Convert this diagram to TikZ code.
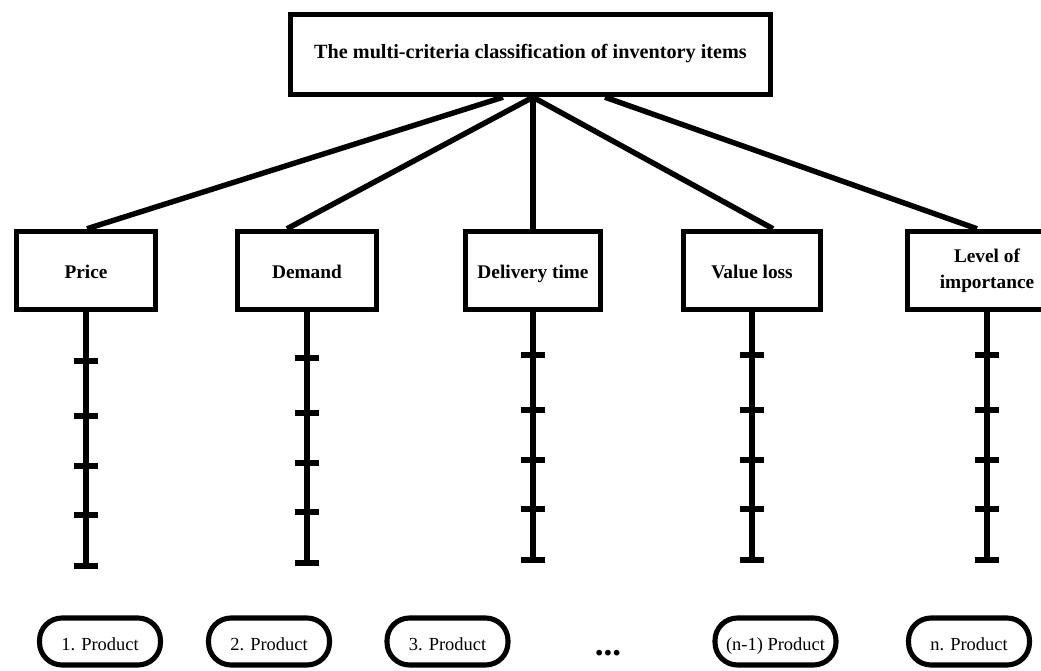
\documentclass[tikz,border=0pt]{standalone}
\usepackage{fontspec}
\setmainfont{Liberation Serif}
\usetikzlibrary{calc}
\tikzstyle{root}=[draw=black, line width=3.1pt, minimum width=9.6cm, minimum height=1.6cm, font=\fontsize{11.5}{13}\selectfont\bfseries]
\tikzstyle{criterion}=[draw=black, line width=3.1pt, minimum width=2.78cm, minimum height=1.56cm, align=center, text height=2ex, text depth=0pt, font=\fontsize{11}{15}\selectfont\bfseries]
\tikzstyle{product}=[draw=black, line width=2.9pt, rounded corners=0.45cm, minimum width=2.42cm, minimum height=0.94cm, text height=2.2ex, text depth=0pt, font=\fontsize{10.5}{12}\selectfont]
\tikzstyle{link}=[line width=3.1pt]
\tikzstyle{tick}=[line width=3.3pt]

\begin{document}
\begin{tikzpicture}[x=0.02cm, y=-0.02cm]
    \useasboundingbox (0,0) rectangle (1041,671);

    \node (title) at (530.5, 54.5) [root] {\raisebox{3pt}{The multi-criteria classification of inventory items}};

    \node (price) at (86, 270.5) [criterion] {Price};
    \node (demand) at (307, 270.5) [criterion] {Demand};
    \node (delivery) at (533, 270.5) [criterion, minimum width=2.7cm] {Delivery time};
    \node (value) at (752, 270.5) [criterion, minimum width=2.74cm] {Value loss};
    \node (level) at (987, 270.5) [criterion, minimum width=3.18cm, text height=, text depth=] {Level of\\importance};

    \draw ($(title.south)+(-27.5,0)$) -- ($(price.north)+(1,0)$) [link];
    \draw (title.south -| delivery.north) -- ($(demand.north)+(-20,0)$) [link];
    \draw (title.south -| delivery.north) -- (delivery.north) [link];
    \draw (title.south -| delivery.north) -- ($(value.north)+(21,0)$) [link];
    \draw ($(title.south)+(74.5,0)$) -- ($(level.north)+(-10,0)$) [link];

    \foreach \c/\s in {price/6, demand/3, delivery/0, value/0, level/0} {
        \coordinate (\c-end) at ($(\c.south)+(0,{247.5+\s})$);
        \draw (\c.south) -- (\c-end) [link];
        \foreach \t in {42.5, 97.5, 147.5, 196.5, 247.5}
            \draw (\c.south) ++(-12,{\t+\s}) -- ++(24,0) [tick];
    }

    \node (p1) at (100, 641.5) [product] {1. Product};
    \node (p2) at (269, 641.5) [product] {2. Product};
    \node (p3) at (447.5, 641.5) [product] {3. Product};
    \node (dots) at (608, 656) [anchor=base, font=\fontsize{20}{24}\selectfont\bfseries] {...};
    \node (pn1) at (775.5, 641.5) [product] {(n-1) Product};
    \node (pn) at (969, 641.5) [product] {n. Product};
\end{tikzpicture}
\end{document}
